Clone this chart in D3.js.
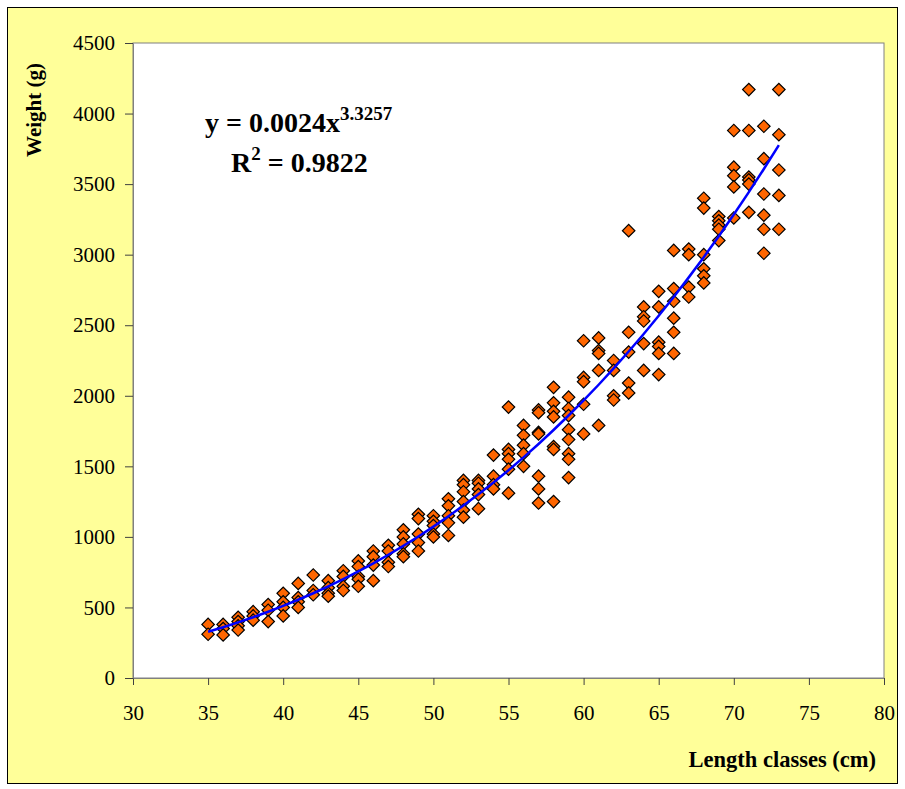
<!DOCTYPE html>
<html>
<head>
<meta charset="utf-8">
<script src="https://cdn.jsdelivr.net/npm/d3@7"></script>
<style>
  body { margin: 0; background: #fff; }
  svg text { font-family: "Liberation Serif", "Times New Roman", serif; fill: #000; }
</style>
</head>
<body>
<div id="container"></div>
<script>
/* DATA */
const lengthClasses = [35, 36, 37, 38, 39, 40, 41, 42, 43, 44, 45, 46, 47, 48, 49, 50, 51, 52, 53, 54,
  55, 56, 57, 58, 59, 60, 61, 62, 63, 64, 65, 66, 67, 68, 69, 70, 71, 72, 73]

const weightsByClass = [
  [380, 310],
  [380, 350, 305],
  [430, 400, 370, 340],
  [470, 440, 410],
  [520, 480, 400],
  [600, 540, 500, 440],
  [670, 570, 540, 500],
  [730, 620, 590],
  [690, 640, 600, 580],
  [760, 720, 650, 620],
  [830, 790, 720, 700, 650],
  [900, 860, 800, 690],
  [940, 900, 820, 790],
  [1050, 1000, 950, 880, 860],
  [1160, 1130, 1020, 960, 900],
  [1150, 1110, 1080, 1020, 1000],
  [1270, 1220, 1150, 1100, 1010],
  [1400, 1370, 1320, 1250, 1190, 1140],
  [1400, 1380, 1340, 1300, 1200],
  [1580, 1430, 1370, 1340],
  [1920, 1620, 1590, 1550, 1480, 1310],
  [1790, 1720, 1650, 1590, 1500],
  [1900, 1880, 1740, 1730, 1430, 1340, 1240],
  [2060, 1950, 1890, 1850, 1640, 1620, 1250],
  [1990, 1910, 1860, 1760, 1690, 1590, 1550, 1420],
  [2390, 2130, 2100, 1940, 1730],
  [2410, 2320, 2300, 2180, 1790],
  [2250, 2180, 2000, 1970],
  [3170, 2450, 2310, 2090, 2020],
  [2630, 2560, 2530, 2370, 2180],
  [2740, 2630, 2380, 2350, 2300, 2150],
  [3030, 2760, 2670, 2550, 2450, 2300],
  [3040, 3000, 2770, 2700],
  [3400, 3330, 3000, 2900, 2850, 2800],
  [3270, 3240, 3210, 3180, 3100],
  [3880, 3620, 3560, 3480, 3260],
  [4170, 3880, 3550, 3530, 3500, 3300],
  [3910, 3680, 3430, 3280, 3180, 3010],
  [4170, 3850, 3600, 3420, 3180]
]

// power trendline shown on the chart: y = a * x^b
const trendA = 0.0024
const trendB = 3.3257
const rSquared = "0.9822"

const xTicks = [30, 35, 40, 45, 50, 55, 60, 65, 70, 75, 80]
const yTicks = [0, 500, 1000, 1500, 2000, 2500, 3000, 3500, 4000, 4500]

/* CONSTANTS */
const width = 905, height = 789
const plot = { left: 133, top: 43, right: 884, bottom: 678 }
const serif = '"Liberation Serif", "Times New Roman", serif'

const points = []
lengthClasses.forEach((len, i) => {
  weightsByClass[i].forEach(w => points.push({ len: len, w: w }))
})
const trend = lengthClasses.map(len => ({ len: len, w: trendA * Math.pow(len, trendB) }))

/* SCALES */
const xScale = d3.scaleLinear().domain([30, 80]).range([plot.left, plot.right])
const yScale = d3.scaleLinear().domain([0, 4500]).range([plot.bottom, plot.top])

/* SVG */
const svg = d3.select("#container")
  .append("svg")
  .attr("width", width)
  .attr("height", height)

// chart background + border
svg.append("rect")
  .attr("x", 7.5).attr("y", 7.5)
  .attr("width", 890).attr("height", 776)
  .attr("fill", "#FFFF99")
  .attr("stroke", "#000")

// plot area
svg.append("rect")
  .attr("x", plot.left).attr("y", plot.top)
  .attr("width", plot.right - plot.left).attr("height", plot.bottom - plot.top)
  .attr("fill", "#fff")
  .attr("stroke", "#808080")

/* AXES */
const xAxis = d3.axisBottom(xScale).tickValues(xTicks).tickSize(7).tickPadding(20)
  .tickSizeOuter(0).tickFormat(d3.format("d"))
const yAxis = d3.axisLeft(yScale).tickValues(yTicks).tickSize(8).tickPadding(10)
  .tickSizeOuter(0).tickFormat(d3.format("d"))

const gx = svg.append("g")
  .attr("transform", `translate(0, ${plot.bottom})`)
  .call(xAxis)
  .attr("font-family", serif)
  .attr("font-size", 21)
gx.selectAll("text").style("font-family", serif).style("font-size", "21px")

const gy = svg.append("g")
  .attr("transform", `translate(${plot.left}, 0)`)
  .call(yAxis)
  .attr("font-family", serif)
  .attr("font-size", 21)
gy.selectAll("text").style("font-family", serif).style("font-size", "21px")

svg.selectAll(".domain").attr("stroke", "#808080")
svg.selectAll(".tick line").attr("stroke", "#404040")

// axis titles
svg.append("text")
  .attr("x", 876).attr("y", 767)
  .attr("text-anchor", "end")
  .style("font-size", "22.5px")
  .style("font-weight", "bold")
  .text("Length classes (cm)")

svg.append("text")
  .attr("transform", `translate(41, 110) rotate(-90)`)
  .attr("text-anchor", "middle")
  .style("font-size", "21px")
  .style("font-weight", "bold")
  .text("Weight (g)")

/* POINTS */
const diamond = d3.symbol().type(d3.symbolSquare).size(78)
svg.selectAll("path.pt")
  .data(points)
  .join("path")
  .attr("class", "pt")
  .attr("d", diamond)
  .attr("transform", d => `translate(${xScale(d.len)}, ${yScale(d.w)}) rotate(45)`)
  .attr("fill", "#FF6600")
  .attr("stroke", "#000")
  .attr("stroke-width", 1.2)

/* TRENDLINE */
const lineGen = d3.line()
  .x(d => xScale(d.len))
  .y(d => yScale(d.w))

svg.append("path")
  .datum(trend)
  .attr("fill", "none")
  .attr("stroke", "#0000FF")
  .attr("stroke-width", 2.5)
  .attr("d", lineGen)

/* EQUATION */
const eq = svg.append("text")
  .attr("x", 205).attr("y", 132)
  .style("font-size", "28px")
  .style("font-weight", "bold")
eq.append("tspan").text(`y = ${trendA}x`)
eq.append("tspan").attr("dy", -12).style("font-size", "19px").text(trendB)

const r2 = svg.append("text")
  .attr("x", 231).attr("y", 172)
  .style("font-size", "28px")
  .style("font-weight", "bold")
r2.append("tspan").text("R")
r2.append("tspan").attr("dy", -12).style("font-size", "19px").text("2")
r2.append("tspan").attr("dy", 12).text(` = ${rSquared}`)
</script>
</body>
</html>
